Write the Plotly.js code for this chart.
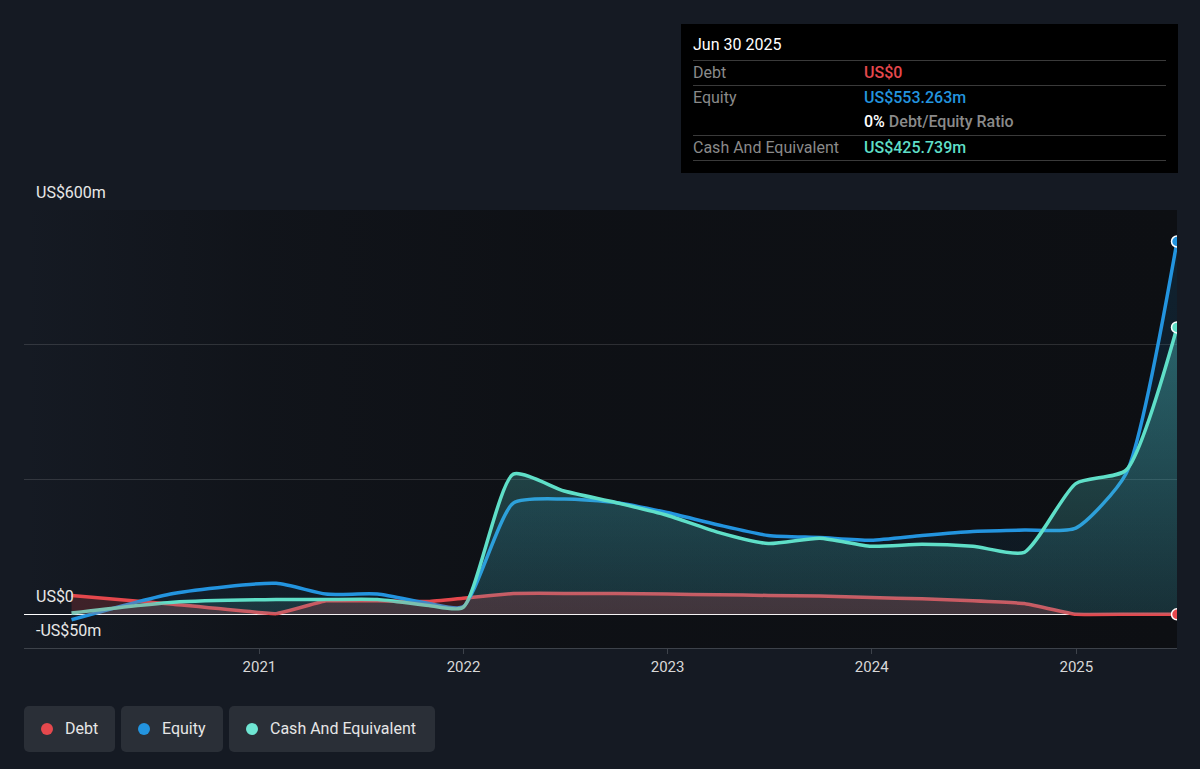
<!DOCTYPE html>
<html>
<head>
<meta charset="utf-8">
<script src="https://cdn.plot.ly/plotly-3.0.1.min.js"></script>
<style>
  html, body { margin:0; padding:0; width:1200px; height:769px; background:#151a23; overflow:hidden; font-family: Roboto, "Noto Sans", sans-serif; }
  #plotbg { position:absolute; left:24px; top:210px; width:1153px; height:438px;
    background: linear-gradient(to right, rgba(13,15,19,0) 0%, rgba(13,15,19,0.55) 20%, rgba(13,15,19,0.85) 45%, rgba(13,15,19,1) 100%); }
  #chart { position:absolute; left:0; top:0; width:1200px; height:769px; }
  #tip { position:absolute; left:681px; top:24px; width:497px; height:149px; background:#000; }
  .row { position:absolute; left:12px; width:473px; height:25px; font-size:16px; line-height:24px; }
  .sep { border-top:1px solid #3a3a3a; }
  .lab { position:absolute; left:0; color:#8a8a8a; }
  .val { position:absolute; left:171px; font-weight:500; }
  #legend { position:absolute; left:24px; top:706px; }
  .item { position:absolute; top:0; height:46px; background:#2a2f37; border-radius:5px; color:#e6e6e6; font-size:16px; line-height:46px; }
  .dot { position:absolute; left:17px; top:17px; width:12px; height:12px; border-radius:6px; }
  .txt { position:absolute; left:41px; }
</style>
</head>
<body>
<div id="plotbg"></div>
<div id="chart"></div>
<div id="tip"></div>
<div id="legend"></div>
<script>
// ---- data ----
const dates = ['2020-01-31','2020-07-31','2021-01-31','2021-04-30','2021-07-31','2021-10-31','2021-12-31',
  '2022-03-31','2022-06-30','2022-09-30','2022-12-31','2023-03-31','2023-06-30','2023-09-30','2023-12-31',
  '2024-03-31','2024-06-30','2024-09-30','2024-12-31','2025-03-31','2025-06-30'];
const debt   = [28, 15, 1, 20, 20, 19, 24, 31, 31, 31, 30, 29, 28, 27, 25, 23, 20, 16, 0, 0, 0];
const equity = [-8, 31, 46, 30, 30, 16, 11, 165, 171, 166, 151, 133, 117, 114, 110, 117, 123, 125, 128, 209, 553.263];
const cash   = [2, 18, 22, 22, 22, 13, 10, 208, 183, 166, 147, 122, 105, 113, 101, 104, 101, 92, 194, 214, 425.739];
const seriesNames = ['Debt', 'Equity', 'Cash And Equivalent'];
const yTickVals = [-50, 0, 600];
const yTickText = ['-US$50m', 'US$0', 'US$600m'];
const gridVals = [200, 400, 600];
const yearTicks = ['2021-01-01','2022-01-01','2023-01-01','2024-01-01','2025-01-01'];
const yearLabels = ['2021','2022','2023','2024','2025'];
const tipDate = 'Jun 30 2025';
const tipDebt = 'US$0';
const tipEquity = 'US$553.263m';
const tipRatio = '0%';
const tipCash = 'US$425.739m';

const RED = '#e5484d', BLUE = '#2394df', TEAL = '#5fdfc8';
const last = dates.length - 1;
const sp = {shape:'spline', smoothing:0.6};
const spDebt = {shape:'spline', smoothing:0.2};

const traces = [
  {x:dates, y:debt, mode:'lines', line:Object.assign({color:RED, width:3.5}, spDebt), hoverinfo:'skip'},
  {x:dates, y:equity, mode:'lines', fill:'tozeroy',
   fillgradient:{type:'vertical', colorscale:[[0,'rgba(35,148,223,0.06)'],[1,'rgba(35,148,223,0.14)']]},
   line:Object.assign({color:BLUE, width:3.5}, sp), hoverinfo:'skip'},
  {x:dates, y:cash, mode:'lines', fill:'tozeroy',
   fillgradient:{type:'vertical', colorscale:[[0,'rgba(80,200,200,0.14)'],[1,'rgba(80,200,200,0.40)']]},
   line:Object.assign({color:TEAL, width:3.5}, sp), hoverinfo:'skip'},
  {x:dates, y:debt, mode:'lines', fill:'tozeroy', fillcolor:'rgba(229,72,77,0.2)',
   line:Object.assign({color:'rgba(0,0,0,0)', width:0}, spDebt), hoverinfo:'skip'},
  {x:[dates[last]], y:[debt[last]], mode:'markers', marker:{size:11, color:RED, line:{color:'#ffffff', width:1.5}}, hoverinfo:'skip'},
  {x:[dates[last]], y:[equity[last]], mode:'markers', marker:{size:11, color:BLUE, line:{color:'#ffffff', width:1.5}}, hoverinfo:'skip'},
  {x:[dates[last]], y:[cash[last]], mode:'markers', marker:{size:11, color:TEAL, line:{color:'#ffffff', width:1.5}}, hoverinfo:'skip'}
];

const annotations = yTickVals.map((v,i) => ({
  xref:'paper', yref:'y', x:0, y:v, xanchor:'left', yanchor:'middle', xshift:10, yshift:18,
  text:yTickText[i], showarrow:false, font:{family:'Roboto', size:16, color:'#e8e8e8'}
}));

const layout = {
  width:1200, height:769,
  margin:{l:24, r:23, t:210, b:121},
  paper_bgcolor:'rgba(0,0,0,0)', plot_bgcolor:'rgba(0,0,0,0)',
  showlegend:false,
  font:{family:'Roboto', color:'#d8d8d8'},
  xaxis:{type:'date', range:['2019-11-07','2025-06-30'], tickvals:yearTicks, ticktext:yearLabels,
    ticks:'outside', ticklen:5, tickcolor:'#3d424a', tickwidth:1,
    showgrid:false, zeroline:false, showline:true, linecolor:'#3d424a', linewidth:1,
    tickfont:{family:'Roboto', size:15, color:'#d8d8d8'}, fixedrange:true},
  yaxis:{range:[-50,600], tickvals:gridVals, showticklabels:false, showgrid:true,
    gridcolor:'rgba(255,255,255,0.13)', gridwidth:1, zeroline:true, zerolinecolor:'#ffffff', zerolinewidth:1.5,
    showline:false, ticks:'', fixedrange:true},
  annotations:annotations
};

Plotly.newPlot('chart', traces, layout, {displayModeBar:false, staticPlot:true});

// ---- tooltip box ----
const tip = document.getElementById('tip');
tip.innerHTML =
  '<div class="row" style="top:9px;color:#fff;">' + tipDate + '</div>' +
  '<div class="row sep" style="top:36px;"><span class="lab">' + seriesNames[0] + '</span><span class="val" style="color:' + RED + '">' + tipDebt + '</span></div>' +
  '<div class="row sep" style="top:61px;"><span class="lab">' + seriesNames[1] + '</span><span class="val" style="color:' + BLUE + '">' + tipEquity + '</span></div>' +
  '<div class="row" style="top:86px;"><span class="val" style="color:#fff">' + tipRatio + ' <span style="color:#8a8a8a">Debt/Equity Ratio</span></span></div>' +
  '<div class="row sep" style="top:111px;"><span class="lab">' + seriesNames[2] + '</span><span class="val" style="color:' + TEAL + '">' + tipCash + '</span></div>' +
  '<div class="row sep" style="top:136px;height:0"></div>';

// ---- legend ----
const leg = document.getElementById('legend');
const legColors = [RED, BLUE, '#6fe6d3'];
const legX = [0, 97, 205];
const legW = [91, 102, 206];
seriesNames.forEach((n,i) => {
  const d = document.createElement('div');
  d.className = 'item';
  d.style.left = legX[i] + 'px';
  d.style.width = legW[i] + 'px';
  d.innerHTML = '<span class="dot" style="background:' + legColors[i] + '"></span><span class="txt">' + n + '</span>';
  leg.appendChild(d);
});
</script>
</body>
</html>
